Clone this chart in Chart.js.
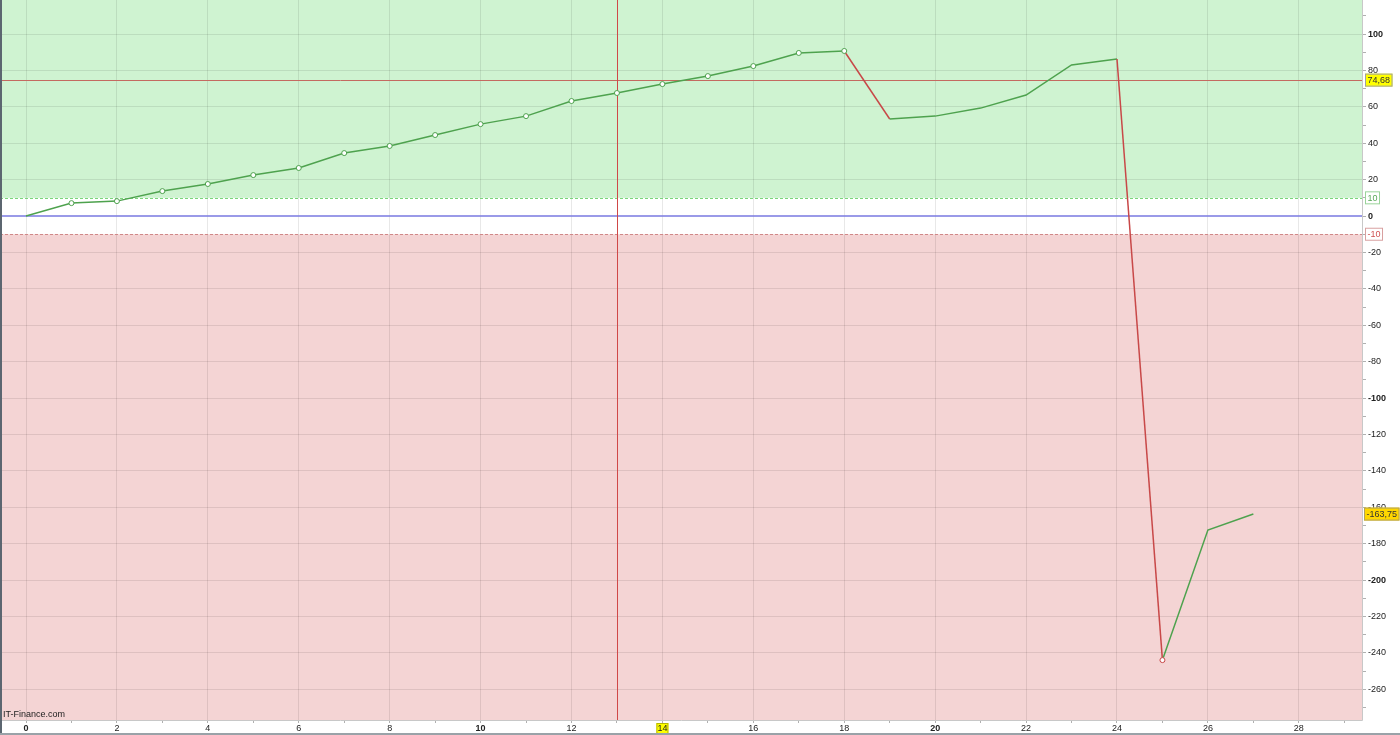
<!DOCTYPE html>
<html>
<head>
<meta charset="utf-8">
<script src="https://cdn.jsdelivr.net/npm/chart.js@4.4.1/dist/chart.umd.min.js"></script>
<style>
html, body { margin: 0; padding: 0; background: #fff; }
#wrap { width: 1400px; height: 735px; position: relative; }
</style>
</head>
<body>
<div id="wrap"><canvas id="myChart" width="1400" height="735"></canvas></div>
<script>
// valores
var trades = [0,1,2,3,4,5,6,7,8,9,10,11,12,13,14,15,16,17,18,19,20,21,22,23,24,25,26,27];
var equity = [0,7.1,8.2,13.7,17.6,22.5,26.4,34.6,38.5,44.5,50.5,54.9,63.2,67.6,72.5,76.9,82.4,89.6,90.7,
              53.3,54.9,59.3,66.5,83.0,86.3,-244,-172.5,-163.75];
var marcados = [0,1,1,1,1,1,1,1,1,1,1,1,1,1,1,1,1,1,1,0,0,0,0,0,0,1,0,0];
var yTicks = [-260,-240,-220,-200,-180,-160,-140,-120,-100,-80,-60,-40,-20,0,20,40,60,80,100];
var xLabels = [0,2,4,6,8,10,12,14,16,18,20,22,24,26,28];
var nivelCursor = 74.68;
var tradeCursor = 13;
var tradeMarcado = 14;
var ultimo = -163.75;
var banda = 10;

var verde = '#4ea24e';
var rojo = '#c84848';

var puntos = [];
for (var i = 0; i < trades.length; i++) {
  puntos.push({x: trades[i], y: equity[i]});
}

function caja(ctx, x, y, txt, fondo, borde, color) {
  ctx.font = '9px "Liberation Sans", Arial, sans-serif';
  var w = ctx.measureText(txt).width + 5;
  ctx.fillStyle = fondo;
  ctx.fillRect(x, y - 6.5, w, 13);
  ctx.strokeStyle = borde;
  ctx.lineWidth = 1;
  ctx.strokeRect(x + 0.5, y - 6, w - 1, 12);
  ctx.fillStyle = color;
  ctx.textAlign = 'left';
  ctx.textBaseline = 'middle';
  ctx.fillText(txt, x + 2.5, y + 0.5);
}

var fondoPlugin = {
  id: 'fondo',
  beforeDraw: function(chart) {
    var ctx = chart.ctx;
    var a = chart.chartArea;
    var ys = chart.scales.y;
    var xs = chart.scales.x;
    var yArr = ys.getPixelForValue(banda);
    var yAb = ys.getPixelForValue(-banda);
    ctx.save();
    ctx.fillStyle = '#cff3d1';
    ctx.fillRect(a.left, a.top, a.right - a.left, yArr - a.top);
    ctx.fillStyle = '#f4d4d4';
    ctx.fillRect(a.left, yAb, a.right - a.left, a.bottom - yAb);
    // marca amarilla del trade
    var px = xs.getPixelForValue(tradeMarcado);
    ctx.fillStyle = '#ffff00';
    ctx.fillRect(px - 6, a.bottom + 3, 12, 12);
    ctx.strokeStyle = '#b8b800';
    ctx.strokeRect(px - 5.5, a.bottom + 3.5, 11, 11);
    ctx.restore();
  },
  beforeDatasetsDraw: function(chart) {
    var ctx = chart.ctx;
    var a = chart.chartArea;
    var ys = chart.scales.y;
    var xs = chart.scales.x;
    ctx.save();
    // lineas de banda
    ctx.setLineDash([3, 2]);
    ctx.lineWidth = 1;
    ctx.strokeStyle = '#7ad67a';
    var y1 = Math.round(ys.getPixelForValue(banda)) + 0.5;
    ctx.beginPath(); ctx.moveTo(a.left, y1); ctx.lineTo(a.right, y1); ctx.stroke();
    ctx.strokeStyle = '#d08888';
    var y2 = Math.round(ys.getPixelForValue(-banda)) + 0.5;
    ctx.beginPath(); ctx.moveTo(a.left, y2); ctx.lineTo(a.right, y2); ctx.stroke();
    ctx.setLineDash([]);
    // linea cero
    ctx.strokeStyle = '#7878e0';
    ctx.lineWidth = 1.5;
    var y0 = ys.getPixelForValue(0);
    ctx.beginPath(); ctx.moveTo(a.left, y0); ctx.lineTo(a.right, y0); ctx.stroke();
    // cruz del cursor
    ctx.lineWidth = 1;
    ctx.strokeStyle = '#c46a60';
    var yc = Math.round(ys.getPixelForValue(nivelCursor)) + 0.5;
    ctx.beginPath(); ctx.moveTo(a.left, yc); ctx.lineTo(a.right, yc); ctx.stroke();
    ctx.strokeStyle = '#d04848';
    var xc = Math.round(xs.getPixelForValue(tradeCursor)) + 0.5;
    ctx.beginPath(); ctx.moveTo(xc, a.top); ctx.lineTo(xc, a.bottom); ctx.stroke();
    ctx.restore();
  },
  afterDraw: function(chart) {
    var ctx = chart.ctx;
    var a = chart.chartArea;
    var ys = chart.scales.y;
    ctx.save();
    // borde del area
    ctx.strokeStyle = '#c8c8c8';
    ctx.lineWidth = 1;
    ctx.beginPath();
    ctx.moveTo(a.right + 0.5, a.top); ctx.lineTo(a.right + 0.5, a.bottom + 0.5);
    ctx.lineTo(a.left, a.bottom + 0.5);
    ctx.stroke();
    ctx.fillStyle = '#5c6670';
    ctx.fillRect(0, 0, 2, 735);
    ctx.fillStyle = '#9aa2a8';
    ctx.fillRect(0, 733, 1400, 2);
    // etiquetas del eje
    caja(ctx, a.right + 3, ys.getPixelForValue(nivelCursor), '74,68', '#ffff00', '#a0a0a0', '#333');
    caja(ctx, a.right + 2, ys.getPixelForValue(ultimo), '-163,75', '#ffd700', '#b0a060', '#333');
    caja(ctx, a.right + 3, ys.getPixelForValue(banda), '10', '#ffffff', '#9ad49a', '#5aa85a');
    caja(ctx, a.right + 3, ys.getPixelForValue(-banda), '-10', '#ffffff', '#d8a0a0', '#d05050');
    // texto de la fuente
    ctx.font = '9px "Liberation Sans", Arial, sans-serif';
    ctx.fillStyle = '#222';
    ctx.textAlign = 'left';
    ctx.textBaseline = 'bottom';
    ctx.fillText('IT-Finance.com', 3, a.bottom - 1);
    // 120 cortado arriba
    ctx.textBaseline = 'middle';
    ctx.fillText('120', a.right + 6, ys.getPixelForValue(120));
    ctx.restore();
  }
};

var ctx = document.getElementById('myChart').getContext('2d');

var myChart = new Chart(ctx, {
  type: 'line',
  data: {
    datasets: [{
      data: puntos,
      borderWidth: 1.5,
      borderColor: verde,
      tension: 0,
      pointRadius: marcados.map(function(m) { return m ? 2.5 : 0; }),
      pointBorderWidth: 1,
      pointBackgroundColor: '#ffffff',
      pointBorderColor: equity.map(function(v, i) {
        return (i > 0 && v < equity[i - 1]) ? rojo : verde;
      }),
      segment: {
        borderColor: function(c) {
          return c.p1.parsed.y < c.p0.parsed.y ? rojo : verde;
        }
      }
    }]
  },
  plugins: [fondoPlugin],
  options: {
    responsive: false,
    animation: false,
    layout: { padding: 0 },
    plugins: {
      legend: { display: false },
      tooltip: { enabled: false }
    },
    scales: {
      x: {
        type: 'linear',
        position: 'bottom',
        min: -0.572,
        max: 29.39,
        afterBuildTicks: function(s) {
          var t = [];
          for (var k = 0; k <= 29; k++) t.push({value: k});
          s.ticks = t;
        },
        afterFit: function(s) {
          s.height = 15;
          s.paddingLeft = 0; s.paddingRight = 0;
        },
        border: { display: false },
        grid: {
          color: function(c) {
            return (c.tick && xLabels.indexOf(c.tick.value) > -1) ? 'rgba(0,0,0,0.09)' : 'rgba(0,0,0,0)';
          },
          tickColor: '#b0b0b0',
          tickLength: 3,
          drawTicks: true
        },
        ticks: {
          autoSkip: false,
          maxRotation: 0,
          padding: 0,
          color: '#222',
          font: function(c) {
            var v = c.tick ? c.tick.value : 1;
            return { family: '"Liberation Sans", Arial, sans-serif', size: 9,
                     weight: (v === 0 || v === 10 || v === 20) ? 'bold' : 'normal' };
          },
          callback: function(v) {
            return xLabels.indexOf(v) > -1 ? String(v) : '';
          }
        }
      },
      y: {
        type: 'linear',
        position: 'right',
        min: -276.9,
        max: 118.7,
        afterBuildTicks: function(s) {
          var t = [];
          for (var k = -270; k <= 110; k += 10) t.push({value: k});
          s.ticks = t;
        },
        afterFit: function(s) {
          s.width = 38;
          s.paddingTop = 0; s.paddingBottom = 0;
        },
        border: { display: false },
        grid: {
          color: function(c) {
            return (c.tick && yTicks.indexOf(c.tick.value) > -1 && c.tick.value !== 0) ? 'rgba(0,0,0,0.09)' : 'rgba(0,0,0,0)';
          },
          tickColor: '#b0b0b0',
          tickLength: 4,
          drawTicks: true
        },
        ticks: {
          autoSkip: false,
          padding: 2,
          color: '#222',
          font: function(c) {
            var v = c.tick ? c.tick.value : 1;
            return { family: '"Liberation Sans", Arial, sans-serif', size: 9,
                     weight: (v % 100 === 0) ? 'bold' : 'normal' };
          },
          callback: function(v) {
            return yTicks.indexOf(v) > -1 ? String(v) : '';
          }
        }
      }
    }
  }
});
</script>
</body>
</html>
